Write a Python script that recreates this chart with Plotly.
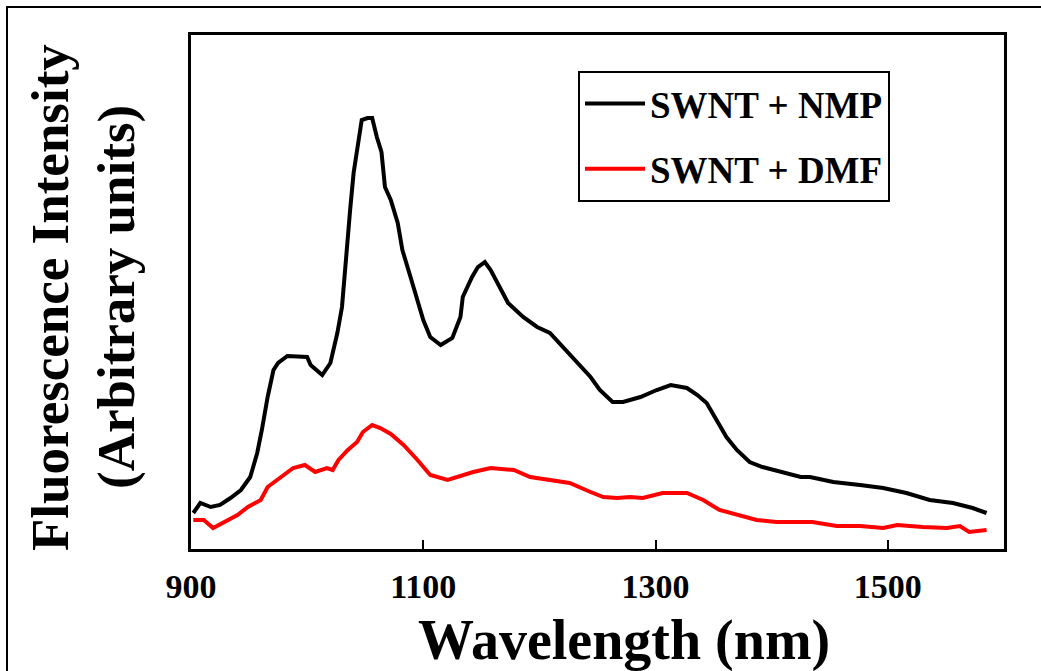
import plotly.graph_objects as go

# Wavelength (nm) and fluorescence intensity (arbitrary units)
nmp_wavelength = [902, 908, 917, 925, 934, 943, 951, 957, 961, 966, 971, 975, 983, 1000, 1003,
                  1013, 1020, 1026, 1030, 1033, 1037, 1040, 1044, 1047, 1052, 1056, 1060, 1064,
                  1067, 1072, 1078, 1082, 1089, 1095, 1100, 1106, 1115, 1125, 1132, 1134, 1142,
                  1147, 1153, 1158, 1166, 1173, 1186, 1198, 1209, 1220, 1232, 1244, 1252, 1263,
                  1272, 1287, 1301, 1313, 1327, 1336, 1344, 1353, 1361, 1370, 1381, 1392, 1407,
                  1425, 1433, 1453, 1476, 1496, 1516, 1536, 1556, 1573, 1585]
nmp_intensity = [36, 46, 42, 44, 51, 59, 72, 96, 119, 152, 179, 186, 193, 192, 184,
                 174, 186, 216, 242, 286, 339, 376, 409, 429, 431, 431, 412, 397,
                 362, 349, 326, 299, 272, 249, 229, 212, 204, 211, 232, 252, 272,
                 282, 287, 279, 262, 246, 232, 222, 216, 202, 186, 172, 159, 147,
                 147, 152, 159, 164, 161, 154, 146, 129, 112, 99, 87, 82, 77,
                 72, 72, 67, 64, 61, 56, 49, 46, 41, 36]

dmf_wavelength = [902, 911, 919, 928, 940, 949, 960, 966, 977, 988, 998, 1007, 1017, 1022, 1027,
                  1035, 1043, 1048, 1056, 1063, 1072, 1080, 1083, 1095, 1106, 1121, 1129, 1143,
                  1158, 1178, 1192, 1209, 1226, 1244, 1255, 1267, 1278, 1289, 1306, 1327, 1341,
                  1355, 1370, 1387, 1404, 1424, 1435, 1456, 1476, 1496, 1508, 1530, 1551, 1562,
                  1570, 1585]
dmf_intensity = [29, 29, 21, 27, 34, 42, 49, 62, 72, 81, 84, 77, 81, 79, 89,
                 99, 107, 117, 124, 121, 115, 107, 104, 89, 74, 69, 72, 77,
                 81, 79, 72, 69, 66, 57, 52, 51, 52, 51, 56, 56, 49,
                 39, 34, 29, 27, 27, 27, 23, 23, 21, 24, 22, 21, 23,
                 17, 19]

x_ticks = [900, 1100, 1300, 1500]

SERIF = "Liberation Serif"

fig = go.Figure()
fig.add_trace(go.Scatter(x=nmp_wavelength, y=nmp_intensity, mode="lines", name="SWNT + NMP",
                         line=dict(color="black", width=4), legendgroup="a"))
fig.add_trace(go.Scatter(x=dmf_wavelength, y=dmf_intensity, mode="lines", name="SWNT + DMF",
                         line=dict(color="#ff0000", width=4), legendgroup="b"))

W, H = 1041, 671
L, R, T, B = 191, 37, 35, 122
pw, ph = W - L - R, H - T - B

def px(xp):
    return (xp - L) / pw

def py(yp):
    return (H - B - yp) / ph

fig.update_layout(
    width=W, height=H,
    margin=dict(l=L, r=R, t=T, b=B),
    paper_bgcolor="white", plot_bgcolor="white",
    showlegend=True,
    legend=dict(x=px(578), y=py(71), xanchor="left", yanchor="top",
                bordercolor="black", borderwidth=2, bgcolor="white",
                font=dict(family=SERIF, size=37, color="black", weight="bold"),
                tracegroupgap=14, itemwidth=60),
    xaxis=dict(range=[900, 1600], tickvals=x_ticks, ticktext=[str(v) for v in x_ticks],
               showline=True, linecolor="black", linewidth=3, mirror=True,
               ticks="inside", ticklen=9, tickwidth=2, tickcolor="black",
               showgrid=False, zeroline=False, ticklabelstandoff=5,
               tickfont=dict(family=SERIF, size=34, color="black", weight="bold")),
    yaxis=dict(range=[0, 514], showticklabels=False, ticks="",
               showline=True, linecolor="black", linewidth=3, mirror=True,
               showgrid=False, zeroline=False),
    shapes=[dict(type="rect", xref="paper", yref="paper",
                 x0=px(7), y0=-0.5, x1=1.2, y1=py(7),
                 line=dict(color="black", width=2), fillcolor="rgba(0,0,0,0)", layer="below")],
    annotations=[
        dict(text="Wavelength (nm)", xref="paper", yref="paper", x=px(624), y=py(640),
             xanchor="center", yanchor="middle", showarrow=False,
             font=dict(family=SERIF, size=56, color="black", weight="bold")),
        dict(text="Fluorescence Intensity", xref="paper", yref="paper", x=px(50), y=py(298),
             xanchor="center", yanchor="middle", showarrow=False, textangle=-90,
             font=dict(family=SERIF, size=53, color="black", weight="bold")),
        dict(text="(Arbitrary units)", xref="paper", yref="paper", x=px(116), y=py(297),
             xanchor="center", yanchor="middle", showarrow=False, textangle=-90,
             font=dict(family=SERIF, size=53, color="black", weight="bold")),
    ],
)

fig.write_html("out.html")
